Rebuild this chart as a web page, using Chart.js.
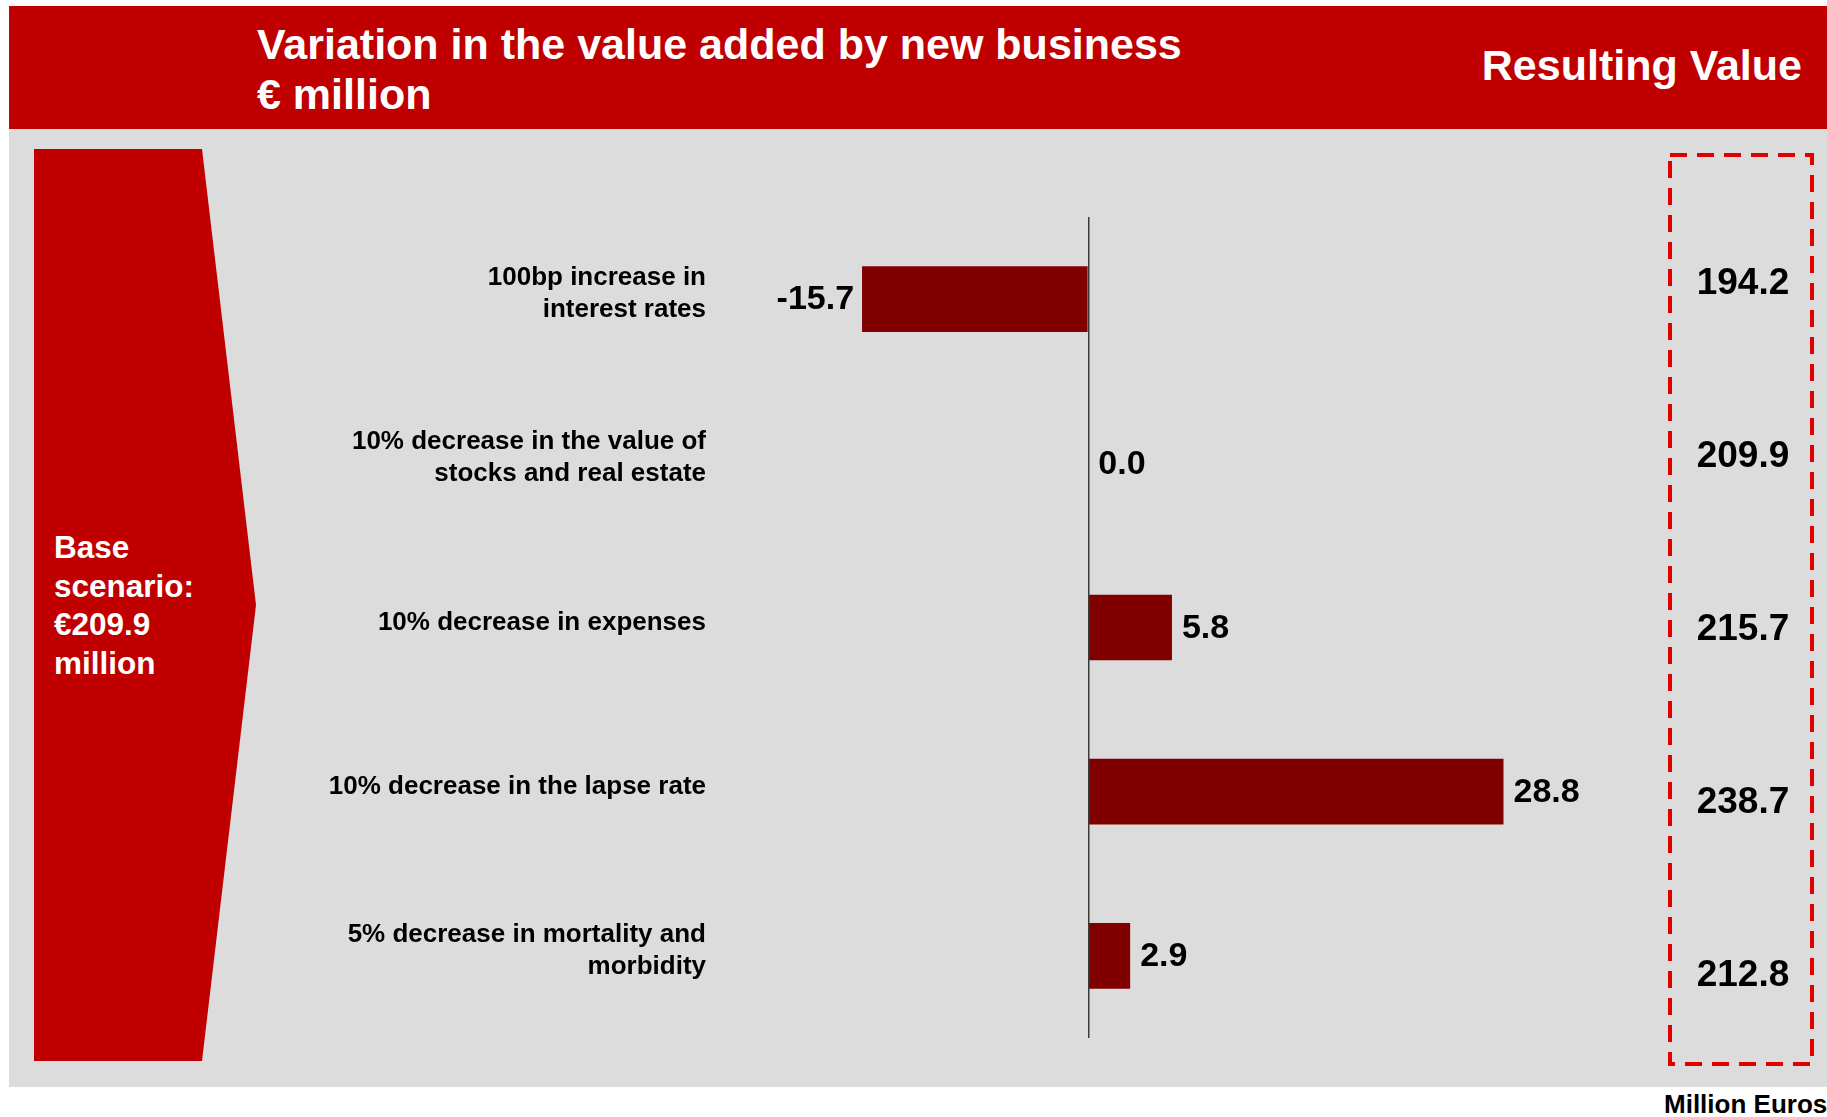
<!DOCTYPE html>
<html>
<head>
<meta charset="utf-8">
<script src="https://cdn.jsdelivr.net/npm/chart.js@4/dist/chart.umd.min.js"></script>
<style>
  html, body { margin: 0; padding: 0; background: #ffffff; }
  body { width: 1827px; height: 1117px; position: relative; overflow: hidden;
         font-family: "Liberation Sans", Arial, Helvetica, sans-serif; }
  .abs { position: absolute; }
  #header { left: 9px; top: 6px; width: 1818px; height: 123px; background: #C00000; }
  #panel { left: 9px; top: 129px; width: 1818px; height: 958px; background: #DCDCDC; }
  #title { left: 257px; top: 19px; color: #fff; font-weight: bold; font-size: 43px; line-height: 50px; white-space: nowrap; }
  #resTitle { right: 25px; top: 40px; color: #fff; font-weight: bold; font-size: 43px; line-height: 50px; white-space: nowrap; }
  #arrow { left: 34px; top: 149px; width: 222px; height: 912px; background: #C00000;
           clip-path: polygon(0 0, 168px 0, 222px 456px, 168px 912px, 0 912px); }
  #base { left: 54px; top: 528px; color: #fff; font-weight: bold; font-size: 31.5px; line-height: 38.5px; white-space: nowrap; }
  #box { left: 1668px; top: 153px; width: 146px; height: 913px; }
  #unit { left: 1664px; top: 1089px; color: #000; font-weight: bold; font-size: 26px; line-height: 30px; white-space: nowrap; }
  #c { position: absolute; left: 0; top: 0; }
</style>
</head>
<body>
<div id="header" class="abs"></div>
<div id="panel" class="abs"></div>
<div id="title" class="abs">Variation in the value added by new business<br>€ million</div>
<div id="resTitle" class="abs">Resulting Value</div>
<div id="arrow" class="abs"></div>
<div id="base" class="abs">Base<br>scenario:<br>€209.9<br>million</div>
<svg id="box" class="abs" width="146" height="913">
  <rect x="2" y="2" width="142" height="909" fill="none" stroke="#E00000" stroke-width="4" stroke-dasharray="17 10"></rect>
</svg>
<div id="unit" class="abs">Million Euros</div>
<canvas id="c" width="1827" height="1117"></canvas>
<script>
const categories = [
  ["100bp increase in", "interest rates"],
  ["10% decrease in the value of", "stocks and real estate"],
  ["10% decrease in expenses"],
  ["10% decrease in the lapse rate"],
  ["5% decrease in mortality and", "morbidity"]
];
const variation = [-15.7, 0.0, 5.8, 28.8, 2.9];
const resultingValue = [194.2, 209.9, 215.7, 238.7, 212.8];
const baseScenario = 209.9;

const FONT = '"Liberation Sans", Arial, Helvetica, sans-serif';

const labelPlugin = {
  id: 'labels',
  afterDatasetsDraw(chart) {
    const ctx = chart.ctx;
    const meta = chart.getDatasetMeta(0);
    const yScale = chart.scales.y;
    ctx.save();
    ctx.fillStyle = '#000';
    ctx.textBaseline = 'middle';

    // category labels (right-aligned, left of the plot)
    ctx.font = 'bold 26px ' + FONT;
    ctx.textAlign = 'right';
    const lh = 32;
    categories.forEach((lines, i) => {
      const cy = yScale.getPixelForValue(i) - 5;
      const y0 = cy - (lines.length - 1) * lh / 2;
      lines.forEach((t, j) => ctx.fillText(t, chart.chartArea.left - 22, y0 + j * lh));
    });

    // value labels next to bars
    ctx.font = 'bold 34px ' + FONT;
    meta.data.forEach((bar, i) => {
      const v = variation[i];
      const txt = v.toFixed(1);
      if (v < 0) {
        ctx.textAlign = 'right';
        ctx.fillText(txt, bar.x - 8, bar.y + 1);
      } else {
        ctx.textAlign = 'left';
        ctx.fillText(txt, bar.x + 10, bar.y + 1);
      }
    });

    // resulting values inside the dashed box
    ctx.font = 'bold 37px ' + FONT;
    ctx.textAlign = 'center';
    resultingValue.forEach((r, i) => {
      ctx.fillText(r.toFixed(1), 1743, 284 + i * 173);
    });
    ctx.restore();
  }
};

new Chart(document.getElementById('c'), {
  type: 'bar',
  data: {
    labels: categories,
    datasets: [{
      data: variation,
      backgroundColor: '#800000',
      borderWidth: 0,
      barPercentage: 0.4,
      categoryPercentage: 1.0
    }]
  },
  options: {
    indexAxis: 'y',
    responsive: false,
    devicePixelRatio: 1,
    animation: false,
    layout: { padding: { left: 0, right: 90, top: 217, bottom: 79 } },
    plugins: { legend: { display: false }, tooltip: { enabled: false } },
    scales: {
      x: {
        min: -25, max: 45,
        ticks: { display: false, stepSize: 5 },
        border: { display: false },
        grid: {
          drawTicks: false,
          lineWidth: 1.5,
          color: (c) => (c.tick && c.tick.value === 0) ? '#3a3a3a' : 'rgba(0,0,0,0)'
        },
        afterFit: (s) => { s.height = 0; }
      },
      y: {
        border: { display: false },
        grid: { display: false, drawTicks: false },
        ticks: { display: false },
        afterFit: (s) => { s.width = 728; }
      }
    }
  },
  plugins: [labelPlugin]
});
</script>
</body>
</html>
